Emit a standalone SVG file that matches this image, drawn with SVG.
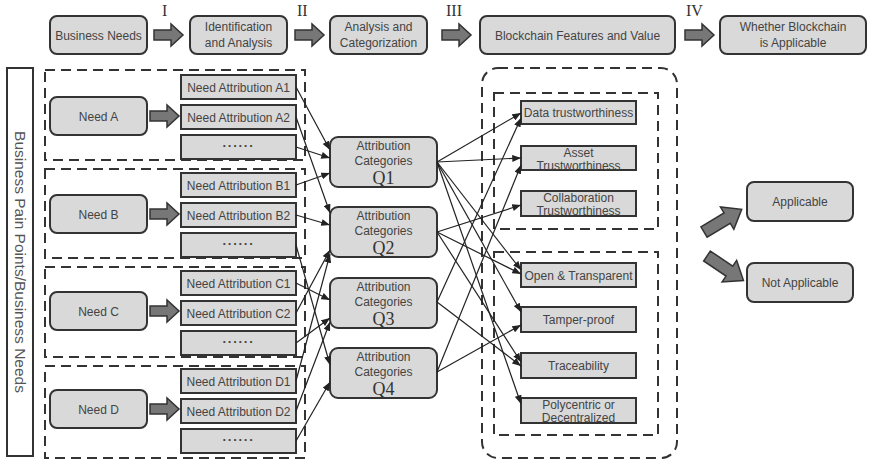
<svg xmlns="http://www.w3.org/2000/svg" width="870" height="461" viewBox="0 0 870 461">
  <style>
    .box { fill: #d9d9d9; stroke: #333; stroke-width: 2; }
    .frame { fill: #fff; stroke: #333; stroke-width: 2; }
    .dash { fill: none; stroke: #333; stroke-width: 2; stroke-dasharray: 10 6; }
    .t { font-family: "Liberation Sans", Arial, sans-serif; font-size: 12px; fill: #444; text-anchor: middle; }
    .ts { font-family: "Liberation Sans", Arial, sans-serif; font-size: 12px; fill: #444; text-anchor: middle; }
    .dots { font-family: "Liberation Sans", Arial, sans-serif; font-size: 13px; font-weight: bold; fill: #444; text-anchor: middle; letter-spacing: 1px; }
    .q { font-family: "Liberation Serif", "Times New Roman", serif; font-size: 18px; fill: #333; text-anchor: middle; }
    .rn { font-family: "Liberation Serif", "Times New Roman", serif; font-size: 16px; fill: #333; }
    .fat { fill: #777; stroke: #333; stroke-width: 1.5; }
    .link { fill: none; stroke: #222; stroke-width: 1.2; marker-end: url(#tip); }
  </style>
  <defs>
    <marker id="tip" viewBox="0 0 10 8" refX="10" refY="4" markerWidth="9" markerHeight="7" markerUnits="userSpaceOnUse" orient="auto">
      <path d="M0,0 L10,4 L0,8 Z" fill="#222"/>
    </marker>
    <path id="fatArrow" d="M0,-5 H17 V-11 L29,0 L17,11 V5 H0 Z"/>
    <path id="bigArrow" d="M0,-6 H27 V-13 L44,0 L27,13 V6 H0 Z"/>
  </defs>

  <!-- process header -->
  <g id="stage-business-needs">
    <rect class="box" x="50" y="16" width="97" height="38" rx="7"/>
    <text class="t" x="98.5" y="39.5">Business Needs</text>
  </g>
  <g id="step-1">
    <use href="#fatArrow" class="fat" transform="translate(154,35)"/>
    <text class="rn" x="162" y="16">I</text>
  </g>
  <g id="stage-identification">
    <rect class="box" x="190" y="16" width="97" height="38" rx="7"/>
    <text class="t" x="238.5" y="31">Identification</text>
    <text class="t" x="238.5" y="47">and Analysis</text>
  </g>
  <g id="step-2">
    <use href="#fatArrow" class="fat" transform="translate(295,35)"/>
    <text class="rn" x="297" y="16">II</text>
  </g>
  <g id="stage-categorization">
    <rect class="box" x="330" y="16" width="97" height="38" rx="7"/>
    <text class="t" x="378.5" y="31">Analysis and</text>
    <text class="t" x="378.5" y="47">Categorization</text>
  </g>
  <g id="step-3">
    <use href="#fatArrow" class="fat" transform="translate(442,35)"/>
    <text class="rn" x="446" y="16">III</text>
  </g>
  <g id="stage-features">
    <rect class="box" x="480" y="16" width="195" height="38" rx="7"/>
    <text class="t" x="577.5" y="39.5">Blockchain Features and Value</text>
  </g>
  <g id="step-4">
    <use href="#fatArrow" class="fat" transform="translate(685,35)"/>
    <text class="rn" x="686" y="16">IV</text>
  </g>
  <g id="stage-applicable">
    <rect class="box" x="720" y="16" width="146" height="38" rx="7"/>
    <text class="t" x="793" y="31">Whether Blockchain</text>
    <text class="t" x="793" y="47">is Applicable</text>
  </g>

  <!-- side label -->
  <g id="side-label">
    <rect class="frame" x="7" y="68" width="26" height="388"/>
    <text transform="translate(15,262) rotate(90)" style="font-family:'Liberation Sans',Arial,sans-serif;font-size:15.5px;fill:#555;text-anchor:middle">Business Pain Points/Business Needs</text>
  </g>

  <!-- need groups -->
  <g id="group-a">
    <rect class="dash" x="45" y="70" width="260" height="90"/>
    <rect class="box" x="50" y="97" width="97" height="38" rx="7"/>
    <text class="t" x="98.5" y="120.5">Need A</text>
    <use href="#fatArrow" class="fat" transform="translate(150,116)"/>
    <rect class="box" x="181" y="75" width="115" height="24"/>
    <text class="t" x="238.5" y="91.5">Need Attribution A1</text>
    <rect class="box" x="181" y="105" width="115" height="24"/>
    <text class="t" x="238.5" y="121.5">Need Attribution A2</text>
    <rect class="box" x="181" y="135" width="115" height="24"/>
    <text class="dots" x="238.5" y="150">······</text>
  </g>
  <g id="group-b">
    <rect class="dash" x="45" y="169" width="260" height="89"/>
    <rect class="box" x="50" y="195" width="97" height="38" rx="7"/>
    <text class="t" x="98.5" y="218.5">Need B</text>
    <use href="#fatArrow" class="fat" transform="translate(150,214)"/>
    <rect class="box" x="181" y="173" width="115" height="24"/>
    <text class="t" x="238.5" y="189.5">Need Attribution B1</text>
    <rect class="box" x="181" y="203" width="115" height="24"/>
    <text class="t" x="238.5" y="219.5">Need Attribution B2</text>
    <rect class="box" x="181" y="233" width="115" height="24"/>
    <text class="dots" x="238.5" y="248">······</text>
  </g>
  <g id="group-c">
    <rect class="dash" x="45" y="267" width="260" height="90"/>
    <rect class="box" x="50" y="292" width="97" height="38" rx="7"/>
    <text class="t" x="98.5" y="315.5">Need C</text>
    <use href="#fatArrow" class="fat" transform="translate(150,311)"/>
    <rect class="box" x="181" y="271" width="115" height="24"/>
    <text class="t" x="238.5" y="287.5">Need Attribution C1</text>
    <rect class="box" x="181" y="301" width="115" height="24"/>
    <text class="t" x="238.5" y="317.5">Need Attribution C2</text>
    <rect class="box" x="181" y="331" width="115" height="24"/>
    <text class="dots" x="238.5" y="346">······</text>
  </g>
  <g id="group-d">
    <rect class="dash" x="45" y="366" width="260" height="92"/>
    <rect class="box" x="50" y="390" width="97" height="38" rx="7"/>
    <text class="t" x="98.5" y="413.5">Need D</text>
    <use href="#fatArrow" class="fat" transform="translate(150,409)"/>
    <rect class="box" x="181" y="369" width="115" height="24"/>
    <text class="t" x="238.5" y="385.5">Need Attribution D1</text>
    <rect class="box" x="181" y="399" width="115" height="24"/>
    <text class="t" x="238.5" y="415.5">Need Attribution D2</text>
    <rect class="box" x="181" y="429" width="115" height="24"/>
    <text class="dots" x="238.5" y="444">······</text>
  </g>

  <!-- attribution categories -->
  <g id="cat-q1">
    <rect class="box" x="330" y="137" width="107" height="50" rx="8"/>
    <text class="t" x="383.5" y="150">Attribution</text>
    <text class="t" x="383.5" y="165">Categories</text>
    <text class="q" x="383.5" y="184">Q1</text>
  </g>
  <g id="cat-q2">
    <rect class="box" x="330" y="207" width="107" height="50" rx="8"/>
    <text class="t" x="383.5" y="220">Attribution</text>
    <text class="t" x="383.5" y="235">Categories</text>
    <text class="q" x="383.5" y="254">Q2</text>
  </g>
  <g id="cat-q3">
    <rect class="box" x="330" y="278" width="107" height="50" rx="8"/>
    <text class="t" x="383.5" y="291">Attribution</text>
    <text class="t" x="383.5" y="306">Categories</text>
    <text class="q" x="383.5" y="325">Q3</text>
  </g>
  <g id="cat-q4">
    <rect class="box" x="330" y="348" width="107" height="50" rx="8"/>
    <text class="t" x="383.5" y="361">Attribution</text>
    <text class="t" x="383.5" y="376">Categories</text>
    <text class="q" x="383.5" y="395">Q4</text>
  </g>

  <!-- blockchain features -->
  <g id="features">
    <rect class="dash" x="482" y="68" width="195" height="390" rx="16"/>
    <rect class="dash" x="494" y="93" width="164" height="136"/>
    <rect class="dash" x="494" y="252" width="164" height="183"/>
  </g>
  <g id="feat-data">
    <rect class="box" x="521" y="101" width="115" height="23"/>
    <text class="t" x="578.5" y="117">Data trustworthiness</text>
  </g>
  <g id="feat-asset">
    <rect class="box" x="521" y="146" width="115" height="24"/>
    <text class="ts" x="578.5" y="157">Asset</text>
    <text class="ts" x="578.5" y="170">Trustworthiness</text>
  </g>
  <g id="feat-collab">
    <rect class="box" x="521" y="191" width="115" height="25"/>
    <text class="ts" x="578.5" y="202">Collaboration</text>
    <text class="ts" x="578.5" y="215">Trustworthiness</text>
  </g>
  <g id="feat-open">
    <rect class="box" x="521" y="263" width="115" height="24"/>
    <text class="t" x="578.5" y="279.5">Open &amp; Transparent</text>
  </g>
  <g id="feat-tamper">
    <rect class="box" x="521" y="307" width="115" height="25"/>
    <text class="t" x="578.5" y="323.5">Tamper-proof</text>
  </g>
  <g id="feat-trace">
    <rect class="box" x="521" y="353" width="115" height="25"/>
    <text class="t" x="578.5" y="369.5">Traceability</text>
  </g>
  <g id="feat-poly">
    <rect class="box" x="521" y="398" width="115" height="25"/>
    <text class="ts" x="578.5" y="409">Polycentric or</text>
    <text class="ts" x="578.5" y="422">Decentralized</text>
  </g>

  <!-- outcomes -->
  <g id="out-applicable">
    <rect class="box" x="747" y="182" width="106" height="39" rx="7"/>
    <text class="t" x="800" y="205.5">Applicable</text>
  </g>
  <g id="out-not-applicable">
    <rect class="box" x="747" y="263" width="106" height="39" rx="7"/>
    <text class="t" x="800" y="286.5">Not Applicable</text>
  </g>
  <g id="outcome-arrows">
    <use href="#bigArrow" class="fat" transform="translate(704,232) rotate(-31)"/>
    <use href="#bigArrow" class="fat" transform="translate(707,256) rotate(34)"/>
  </g>

  <!-- connectors -->
  <g id="connectors">
    <path class="link" d="M296,87 L330,150"/>
    <path class="link" d="M296,117 L330,213"/>
    <path class="link" d="M296,147 L330,158"/>
    <path class="link" d="M296,185 L330,173"/>
    <path class="link" d="M296,215 L330,225"/>
    <path class="link" d="M296,245 L330,365"/>
    <path class="link" d="M296,283 L330,300"/>
    <path class="link" d="M296,313 L330,250"/>
    <path class="link" d="M296,343 L330,318"/>
    <path class="link" d="M296,381 L330,254"/>
    <path class="link" d="M296,411 L330,322"/>
    <path class="link" d="M296,441 L330,382"/>

    <path class="link" d="M437,162 L521,113"/>
    <path class="link" d="M437,162 L521,158"/>
    <path class="link" d="M437,162 L521,270"/>
    <path class="link" d="M437,162 L521,312"/>
    <path class="link" d="M437,162 L521,404"/>
    <path class="link" d="M437,232 L521,205"/>
    <path class="link" d="M437,232 L521,274"/>
    <path class="link" d="M437,232 L521,362"/>
    <path class="link" d="M437,302 L521,118"/>
    <path class="link" d="M437,302 L521,366"/>
    <path class="link" d="M437,372 L521,165"/>
    <path class="link" d="M437,372 L521,325"/>
  </g>
</svg>
